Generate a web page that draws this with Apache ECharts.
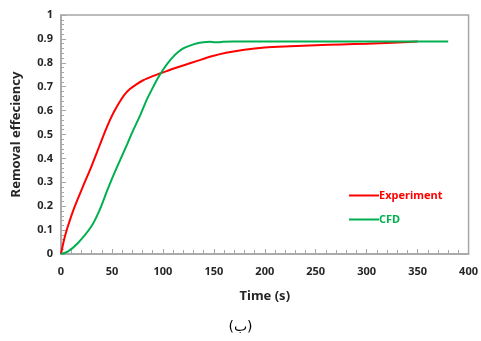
<!DOCTYPE html>
<html>
<head>
<meta charset="utf-8">
<script src="https://cdn.jsdelivr.net/npm/echarts@6/dist/echarts.min.js"></script>
<style>
  html, body { margin: 0; padding: 0; background: #fff; }
  #chart { width: 481px; height: 341px; }
</style>
</head>
<body>
<div id="chart"></div>
<script>
// Experiment curve (time in s, removal efficiency)
const expT = [0, 3, 6.6, 13.4, 21.5, 29.7, 38, 44, 48, 52, 57.8, 62, 67.6, 74, 80.7, 90, 97, 103.6, 110, 120, 133, 147, 162, 180, 200, 225, 250, 275, 300, 325, 350];
const expY = [0, 0.06, 0.114, 0.198, 0.282, 0.365, 0.455, 0.52, 0.56, 0.595, 0.638, 0.665, 0.69, 0.71, 0.727, 0.744, 0.755, 0.765, 0.775, 0.789, 0.807, 0.826, 0.842, 0.855, 0.864, 0.869, 0.873, 0.877, 0.88, 0.884, 0.889];

// CFD curve
const cfdT = [0, 6.6, 16.4, 29.7, 38, 45, 51, 58, 65, 71, 78, 84, 90, 95, 100, 105, 110, 115, 120, 126.5, 133, 140, 146, 151, 155, 159, 170, 200, 250, 300, 350, 380];
const cfdY = [0, 0.01, 0.045, 0.115, 0.185, 0.262, 0.325, 0.393, 0.46, 0.519, 0.583, 0.644, 0.695, 0.735, 0.77, 0.8, 0.825, 0.845, 0.86, 0.872, 0.881, 0.886, 0.888, 0.886, 0.886, 0.888, 0.889, 0.889, 0.889, 0.889, 0.889, 0.889];

const xTicks = [0, 400, 50];
const yTicks = [0, 1, 0.1];

const pairs = (xs, ys) => xs.map((x, i) => [x, ys[i]]);

const axisGray = '#a6a6a6';
const labelColor = '#262626';
const font = '"Noto Sans", "DejaVu Sans", sans-serif';

const chart = echarts.init(document.getElementById('chart'));
chart.setOption({
  animation: false,
  textStyle: { fontFamily: font },
  grid: {
    left: 61, right: 11, top: 15, bottom: 87,
    show: true, borderColor: axisGray, borderWidth: 1.5,
    containLabel: false
  },
  title: {
    text: '(ب)',
    left: 'center', top: 315,
    textStyle: { fontSize: 14, fontWeight: 'normal', color: '#000', fontFamily: '"DejaVu Sans", sans-serif' }
  },
  legend: {
    orient: 'vertical',
    left: 344, top: 184,
    icon: 'rect',
    itemWidth: 30, itemHeight: 2, itemGap: 11,
    data: [
      { name: 'Experiment', itemStyle: { color: '#ff0000' }, textStyle: { color: '#ff0000' } },
      { name: 'CFD', itemStyle: { color: '#00b050' }, textStyle: { color: '#00b050' } }
    ],
    textStyle: { fontSize: 11, fontWeight: 'bold', lineHeight: 13, padding: [0, 0, 0, -5] }
  },
  xAxis: {
    type: 'value',
    min: xTicks[0], max: xTicks[1], interval: xTicks[2],
    name: 'Time (s)', nameLocation: 'middle', nameGap: 36,
    nameTextStyle: { fontSize: 13, fontWeight: 'bold', color: labelColor },
    axisLine: { show: true, lineStyle: { color: axisGray, width: 1.5 } },
    axisTick: { show: true, inside: true, length: 5, lineStyle: { color: axisGray } },
    minorTick: { show: true, splitNumber: 5, length: 4, lineStyle: { color: axisGray } },
    axisLabel: { fontSize: 11, fontWeight: 'bold', color: labelColor, margin: 12 },
    splitLine: { show: false }
  },
  yAxis: {
    type: 'value',
    min: yTicks[0], max: yTicks[1], interval: yTicks[2],
    name: 'Removal effeciency', nameLocation: 'middle', nameGap: 38,
    nameTextStyle: { fontSize: 13, fontWeight: 'bold', color: labelColor },
    axisLine: { show: true, lineStyle: { color: axisGray, width: 1.5 } },
    axisTick: { show: true, inside: true, length: 5, lineStyle: { color: axisGray } },
    minorTick: { show: true, splitNumber: 5, length: 3, lineStyle: { color: axisGray } },
    axisLabel: {
      fontSize: 11, fontWeight: 'bold', color: labelColor, margin: 8,
      formatter: v => (Math.round(v * 10) / 10).toString()
    },
    splitLine: { show: false }
  },
  series: [
    {
      name: 'Experiment', type: 'line', smooth: 0.3, symbol: 'none',
      data: pairs(expT, expY),
      lineStyle: { color: '#ff0000', width: 2 },
      itemStyle: { color: '#ff0000' }
    },
    {
      name: 'CFD', type: 'line', smooth: 0.3, symbol: 'none',
      data: pairs(cfdT, cfdY),
      lineStyle: { color: '#00b050', width: 2 },
      itemStyle: { color: '#00b050' }
    }
  ]
});
</script>
</body>
</html>
